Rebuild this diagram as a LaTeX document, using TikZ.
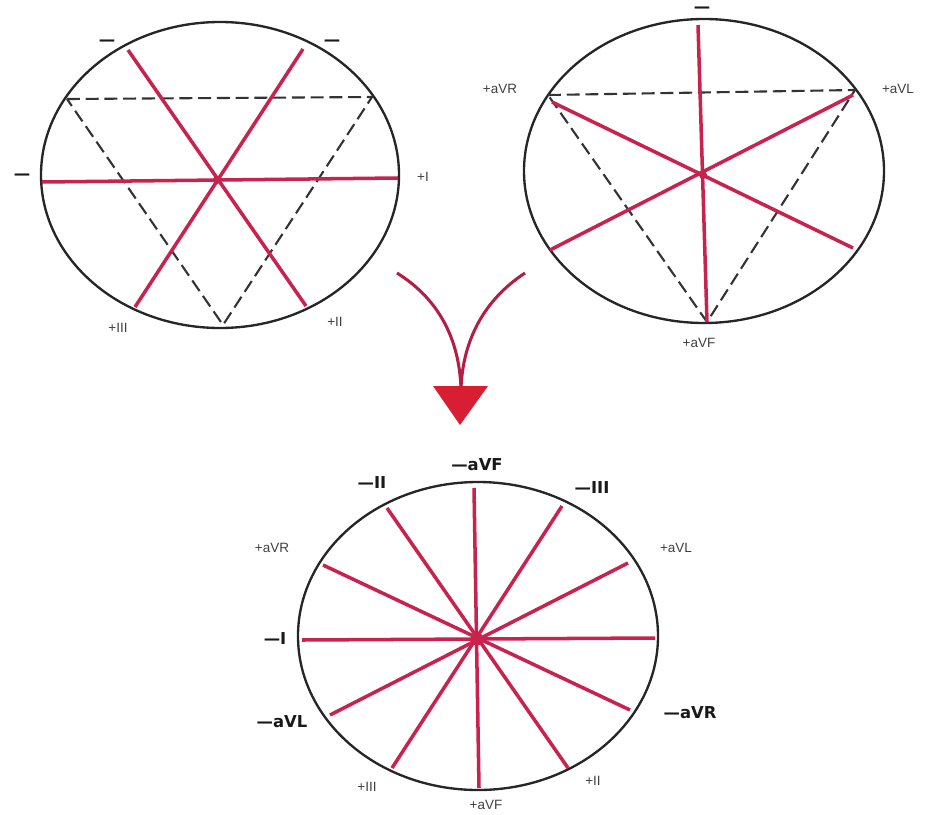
\documentclass[tikz,border=0pt]{standalone}
\usepackage{fontspec}
\setmainfont{Liberation Sans}
\newfontfamily\dejavu{DejaVu Sans}
\usetikzlibrary{arrows.meta,positioning}
\definecolor{lead}{HTML}{C8234F}
\definecolor{merge}{HTML}{B21E45}
\definecolor{tip}{HTML}{D81E32}
\tikzset{
rim/.style={draw=black!85,line width=2pt},
axis/.style={draw=lead,line width=3pt},
tri/.style={draw=black!80,line width=1.8pt,dash pattern=on 11pt off 5pt},
hub/.style={circle,fill=lead,inner sep=0pt,minimum size=7pt},
lbl/.style={font=\fontsize{11.5}{13}\selectfont,text=black!75,inner sep=1pt},
blbl/.style={font=\dejavu\bfseries\fontsize{14}{16}\selectfont,text=black!90,inner sep=1pt}
}

\begin{document}
\begin{tikzpicture}[x=0.03cm,y=-0.03cm]
\useasboundingbox (0,0) rectangle (931,814);
% bipolar limb leads
\draw[rim] (220,175) ellipse [x radius=179, y radius=153];
\coordinate (biR) at (67,99);
\coordinate (biL) at (372,97);
\coordinate (biF) at (223,325);
\draw[tri] (biR) -- (biL) -- (biF) -- cycle;
\coordinate (biIn) at (42,182);  \coordinate (biIp) at (398,178);
\coordinate (biIIn) at (128,50);  \coordinate (biIIp) at (306,306);
\coordinate (biIIIn) at (303,49); \coordinate (biIIIp) at (135,307);
\draw[axis] (biIn) -- (biIp);
\draw[axis] (biIIn) -- (biIIp);
\draw[axis] (biIIIn) -- (biIIIp);
\node[hub] (bihub) at (217,180) {};
\node[lbl] (biIpL) at (423,177) {+I};
\node[blbl] (biInL) at (22,177) {\textemdash};
\node[blbl] (biIInL) at (107,43) {\textemdash};
\node[blbl] (biIIInL) at (332,43) {\textemdash};
\node[lbl] (biIIIpL) at (118,328) {+III};
\node[lbl] (biIIpL) at (335,322) {+II};
% augmented leads
\draw[rim] (704,171) ellipse [x radius=180, y radius=152];
\coordinate (unR) at (548,95);
\coordinate (unL) at (855,90);
\coordinate (unF) at (707,322);
\draw[tri] (unR) -- (unL) -- (unF) -- cycle;
\coordinate (unFn) at (698,25);
\coordinate (unRn) at (853,248);
\coordinate (unLn) at (550,250);
\draw[axis] (unFn) -- (unF);
\draw[axis] (552,102) -- (unRn);
\draw[axis] (853,95) -- (unLn);
\node[hub] (unhub) at (703,175) {};
\node[blbl] (unFnL) at (702,10) {\textemdash};
\node[lbl] (unRL) at (500,89) {+aVR};
\node[lbl] (unLL) at (898,89) {+aVL};
\node[lbl] (unFL) at (699,343) {+aVF};
% merging arrow
\coordinate (mgL) at (397,273);
\coordinate (mgR) at (525,273);
\coordinate (mgJ) at (461,388);
\draw[merge,line width=2.6pt] (mgL) .. controls (440,300) and (459,340) .. (mgJ);
\draw[merge,line width=2.6pt] (mgR) .. controls (484,300) and (463,340) .. (mgJ);
\fill[tip] (433,386) -- (488,386) -- (460,425) -- cycle;
% hexaxial reference system
\draw[rim] (478,636) ellipse [x radius=180, y radius=154];
\coordinate (hxFn) at (474,488);   \coordinate (hxFp) at (479,788);
\coordinate (hxIn) at (302,640);   \coordinate (hxIp) at (655,638);
\coordinate (hxIIn) at (387,508);  \coordinate (hxIIp) at (568,768);
\coordinate (hxIIIn) at (562,506); \coordinate (hxIIIp) at (392,768);
\coordinate (hxRp) at (323,565);   \coordinate (hxRn) at (630,710);
\coordinate (hxLp) at (628,563);   \coordinate (hxLn) at (330,715);
\draw[axis] (hxFn) -- (hxFp);
\draw[axis] (hxIn) -- (hxIp);
\draw[axis] (hxIIn) -- (hxIIp);
\draw[axis] (hxIIIn) -- (hxIIIp);
\draw[axis] (hxRp) -- (hxRn);
\draw[axis] (hxLp) -- (hxLn);
\node[hub,minimum size=11pt] (hxhub) at (477,639) {};
\node[blbl] (hxFnL) at (477,465) {\textemdash aVF};
\node[blbl] (hxIInL) at (372,483) {\textemdash II};
\node[blbl] (hxIIInL) at (592,488) {\textemdash III};
\node[lbl] (hxRpL) at (272,548) {+aVR};
\node[lbl] (hxLpL) at (676,548) {+aVL};
\node[blbl] (hxInL) at (275,639) {\textemdash I};
\node[blbl] (hxLnL) at (282,722) {\textemdash aVL};
\node[blbl] (hxRnL) at (690,713) {\textemdash aVR};
\node[lbl] (hxIIIpL) at (367,787) {+III};
\node[lbl] (hxIIpL) at (593,781) {+II};
\node[lbl] (hxFpL) at (486,805) {+aVF};
\end{tikzpicture}
\end{document}
